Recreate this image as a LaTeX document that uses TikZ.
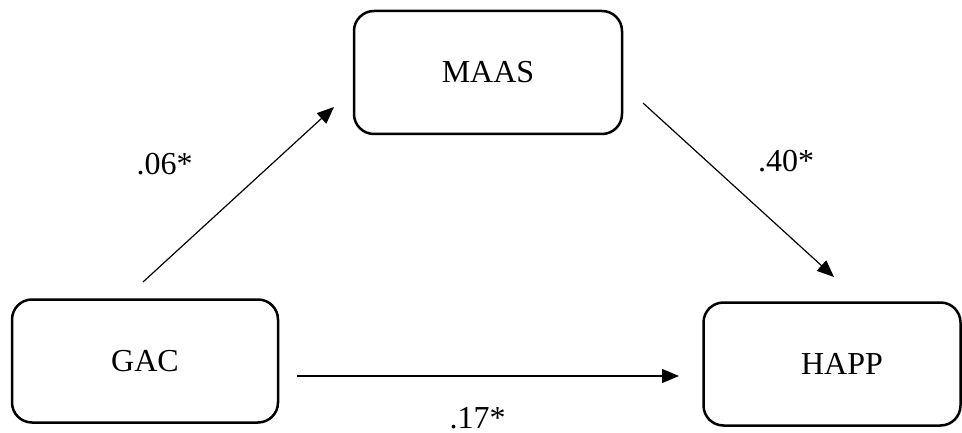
\documentclass[tikz,border=0pt]{standalone}
\usepackage{fontspec}
\setmainfont{Liberation Serif}
\usetikzlibrary{arrows.meta}
\begin{document}
\begin{tikzpicture}[x=1pt,y=-1pt,
  var/.style={draw, line width=2.5pt, rounded corners=20pt,
    minimum height=123pt, inner sep=0pt,
    font=\fontsize{32}{38}\selectfont},
  effect/.style={line width=1.2pt, -{Triangle[length=17pt,width=14pt]}},
  coef/.style={font=\fontsize{32}{38}\selectfont, anchor=base, inner sep=0pt}]
\useasboundingbox (0,0) rectangle (962,433);

% variables
\node[var, minimum width=268pt] (maas) at (488,72.5) {MAAS};
\node[var, minimum width=266pt] (gac)  at (145,361) {GAC};
\node[var, minimum width=257pt] (happ) at (832,364) {\hspace*{20pt}HAPP};

% free ends of the paths
\coordinate (a1) at (143,282);
\coordinate (a2) at (334,107);
\coordinate (b1) at (643,103);
\coordinate (b2) at (834,277);
\coordinate (c1) at (297,376);
\coordinate (c2) at (679,376);

\draw[effect] (a1) -- (a2);
\draw[effect] (b1) -- (b2);
\draw[effect] (c1) -- (c2);

% path coefficients
\node[coef] (ka) at (164.5,175) {.06*};
\node[coef] (kb) at (786,172) {.40*};
\node[coef] (kc) at (477.5,428) {.17*};
\end{tikzpicture}
\end{document}
